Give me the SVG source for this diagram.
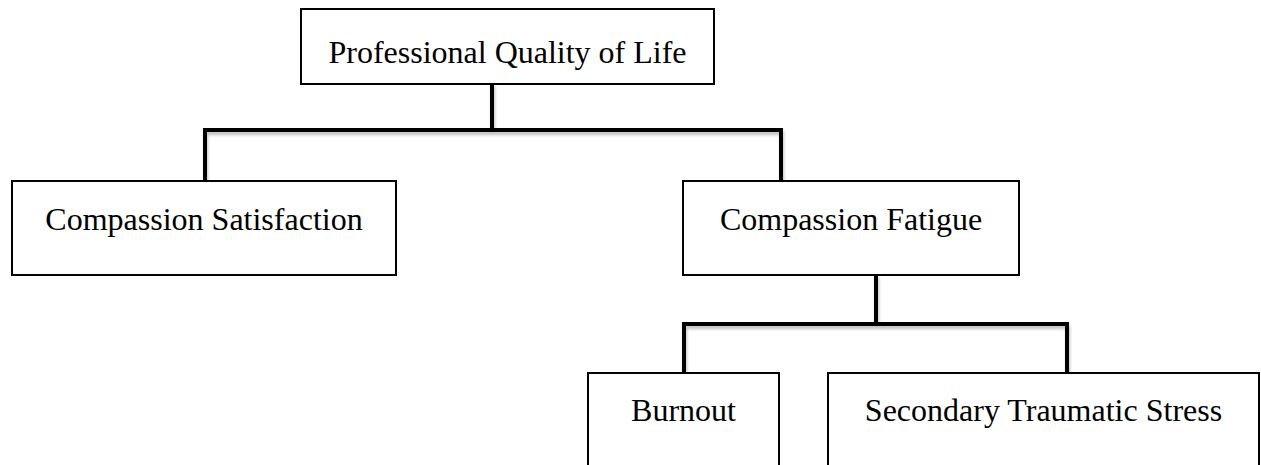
<svg xmlns="http://www.w3.org/2000/svg" width="1261" height="465" viewBox="0 0 1261 465">
<style>
.box{fill:#fff;stroke:#000;stroke-width:2}
.lbl{font-family:"Liberation Serif","Times New Roman",serif;font-size:32px;fill:#000;text-anchor:middle}
.conn{fill:none;stroke:#000;stroke-width:4;stroke-linejoin:miter;stroke-linecap:square}
</style>
<defs>
<filter id="sh" x="-5%" y="-20%" width="110%" height="140%">
<feDropShadow dx="1" dy="3" stdDeviation="1.5" flood-color="#000" flood-opacity="0.25"/>
</filter>
</defs>
<rect width="1261" height="465" fill="#fff"/>
<g id="connectors" filter="url(#sh)">
<path class="conn" d="M492,85 V130 M205,181 V130 H781 V181"/>
<path class="conn" d="M876,276 V324 M684,373 V324 H1067 V373"/>
</g>
<g id="node-pqol">
<rect class="box" x="301" y="9" width="413" height="75"/>
<text class="lbl" x="507.5" y="63">Professional Quality of Life</text>
</g>
<g id="node-cs">
<rect class="box" x="12" y="181" width="384" height="94"/>
<text class="lbl" x="204" y="230">Compassion Satisfaction</text>
</g>
<g id="node-cf">
<rect class="box" x="683" y="181" width="336" height="94"/>
<text class="lbl" x="851" y="230">Compassion Fatigue</text>
</g>
<g id="node-burnout">
<rect class="box" x="588" y="373" width="191" height="110"/>
<text class="lbl" x="683.5" y="421">Burnout</text>
</g>
<g id="node-sts">
<rect class="box" x="828" y="373" width="431" height="110"/>
<text class="lbl" x="1043.5" y="421">Secondary Traumatic Stress</text>
</g>
</svg>
